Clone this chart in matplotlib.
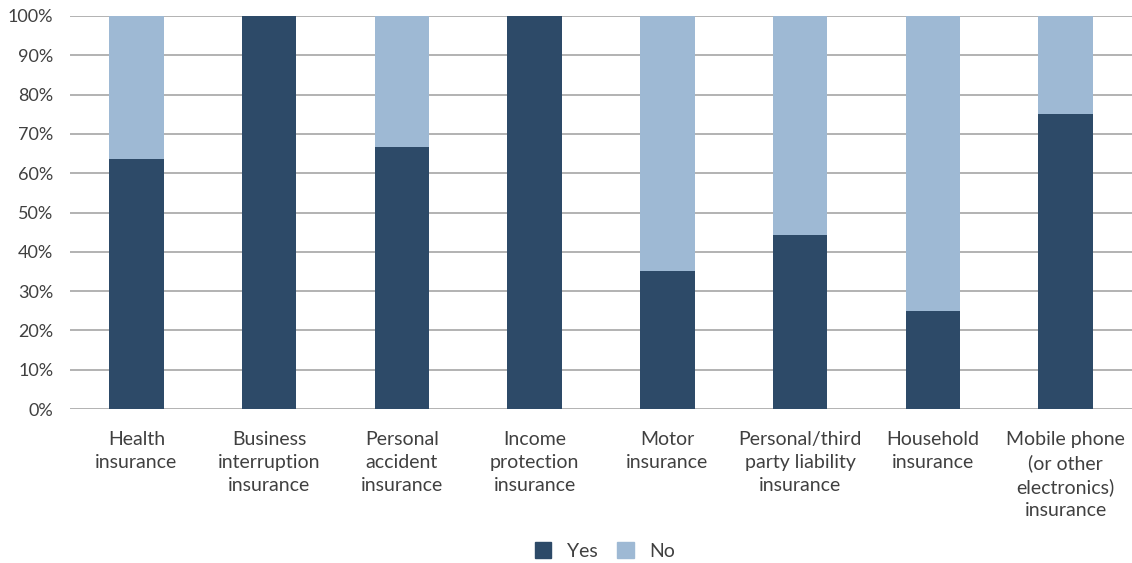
import matplotlib
matplotlib.use("Agg")
import matplotlib.pyplot as plt
from matplotlib.patches import Patch
import numpy as np

categories = ["Health\ninsurance", "Business\ninterruption\ninsurance", "Personal\naccident\ninsurance",
              "Income\nprotection\ninsurance", "Motor\ninsurance", "Personal/third\nparty liability\ninsurance",
              "Household\ninsurance", "Mobile phone\n(or other\nelectronics)\ninsurance"]
yes = [63.6, 100.0, 66.7, 100.0, 35.0, 44.4, 25.0, 75.0]
no = [100 - v for v in yes]
yticks = list(range(0, 101, 10))
ytick_labels = [f"{t}%" for t in yticks]

plt.rcParams['font.family'] = ['Lato', 'DejaVu Sans']
dark = "#2d4a68"
light = "#9eb9d4"
txt = "#404040"

fig = plt.figure(figsize=(11.32, 5.63), dpi=100)
ax = fig.add_axes([70/1132, (563-409)/563, 1 - 70/1132, (409-16)/563])
x = np.arange(len(categories))
ax.bar(x, yes, width=0.41, color=dark, zorder=3)
ax.bar(x, no, width=0.41, bottom=yes, color=light, zorder=3)
ax.set_xlim(-0.5, len(categories) - 0.5)
ax.set_ylim(0, 100)
ax.set_yticks(yticks)
ax.set_yticklabels(ytick_labels, fontsize=13, color=txt)
ax.yaxis.grid(True, color="#a6a6a6", linewidth=1.2, zorder=0)
ax.tick_params(axis='y', length=0, pad=12)
ax.tick_params(axis='x', length=0, pad=16)
ax.set_xticks(x)
ax.set_xticklabels(categories, fontsize=14, color=txt, linespacing=1.42, va='top')
for s in ax.spines.values():
    s.set_visible(False)

handles = [Patch(color=dark, label="Yes"), Patch(color=light, label="No")]
fig.legend(handles=handles, loc='center', bbox_to_anchor=(605/1132, 1 - 551/563), ncol=2,
           frameon=False, fontsize=14, labelcolor=txt, handlelength=0.85, handleheight=0.85,
           columnspacing=1.0, handletextpad=0.8)
fig.savefig("out.png", dpi=100)
